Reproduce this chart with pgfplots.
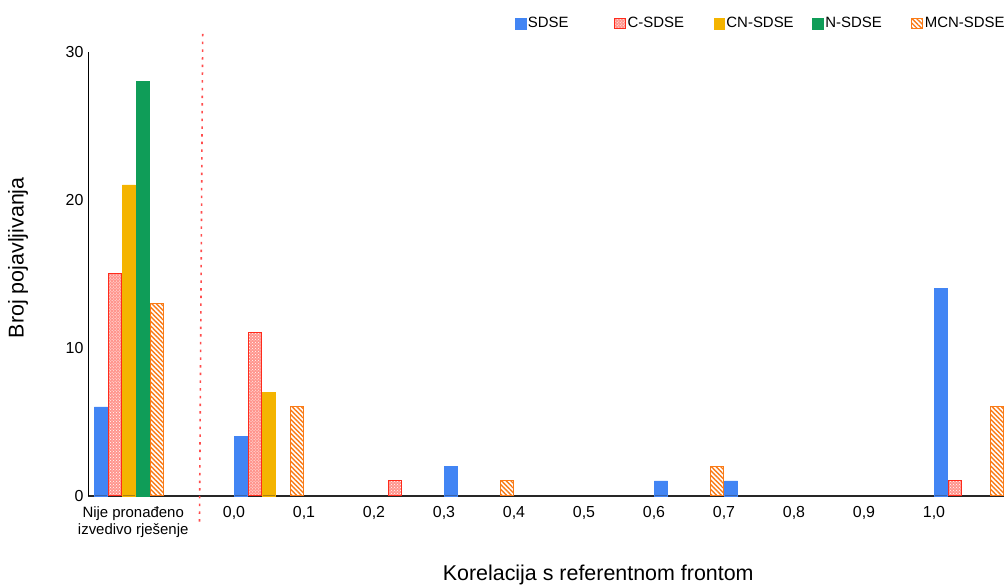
\documentclass[border=0pt]{standalone}
\usepackage{fontspec}
\setmainfont{Liberation Sans}
\usepackage{pgfplots}
\pgfplotsset{compat=1.18}
\usetikzlibrary{patterns,patterns.meta}
\definecolor{sdse}{HTML}{4285F4}
\definecolor{csdse}{HTML}{FF2B1C}
\definecolor{cnsdse}{HTML}{F4B400}
\definecolor{nsdse}{HTML}{0F9D58}
\definecolor{mcn}{HTML}{FA7B17}
\definecolor{dotred}{HTML}{FF4D4D}
\begin{document}
\begin{tikzpicture}
\useasboundingbox (-88bp,-90.3bp) rectangle (918bp,495.7bp);
\begin{axis}[
  at={(0,0)}, anchor=south west,
  scale only axis, width=916bp, height=444bp,
  xmin=-0.0857, xmax=13.0, ymin=0, ymax=30,
  axis x line=bottom, axis y line=left,
  axis line style={-},
  x axis line style={line width=1.8bp, color=black!85},
  y axis line style={line width=0.9bp, color=black},
  major tick length=0pt,
  ytick={0,10,20,30},
  xtick={0.56,2,3,4,5,6,7,8,9,10,11,12},
  xticklabels={{{\fontsize{15}{17}\selectfont Nije pronađeno}\\{\fontsize{15}{17}\selectfont izvedivo rješenje}},{0,0},{0,1},{0,2},{0,3},{0,4},{0,5},{0,6},{0,7},{0,8},{0,9},{1,0}},
  xticklabel style={font=\fontsize{16}{18}\selectfont, align=center, yshift=-7bp},
  yticklabel style={font=\fontsize{16}{16}\selectfont, xshift=-1bp},
  /pgf/number format/assume math mode=true,
  xlabel={Korelacija s referentnom frontom},
  xlabel style={at={(axis description cs:0.557,-0.179)}, anchor=center, font=\fontsize{21.5}{21.5}\selectfont},
  ylabel={Broj pojavljivanja},
  ylabel style={at={(axis description cs:-0.0764,0.536)}, anchor=center, font=\fontsize{21.5}{21.5}\selectfont},
  ybar, bar width=0.186, bar shift=0pt,
  clip=false,
  legend columns=5,
  legend cell align=left,
  legend image code/.code={\draw[#1,/tikz/.cd] (0bp,-5.3bp) rectangle (10.6bp,5.3bp);},
  legend style={
    at={(axis description cs:0.4662,1.0635)}, anchor=west,
    draw=none, fill=none, inner sep=0pt, outer sep=0pt,
    font=\fontsize{15}{15}\selectfont,
    nodes={text width=84bp, align=left, inner xsep=2bp, inner ysep=1bp},
    /tikz/every even column/.append style={column sep=0pt},
  },
]
\addplot[draw=sdse, line width=0.3bp, fill=sdse] coordinates {(0.1,6) (2.1,4) (5.1,2) (8.1,1) (9.1,1) (12.1,14)};
\addplot[draw=csdse, line width=1bp, fill=csdse!50, postaction={pattern=crosshatch dots, pattern color=white}] coordinates {(0.3,15) (2.3,11) (4.3,1) (12.3,1)};
\addplot[draw=cnsdse, line width=0.3bp, fill=cnsdse] coordinates {(0.5,21) (2.5,7)};
\addplot[draw=nsdse, line width=0.3bp, fill=nsdse] coordinates {(0.7,28)};
\addplot[draw=mcn, line width=1bp, fill=white, postaction={pattern={Lines[angle=-45,distance=3.3bp,line width=1.4bp]}, pattern color=mcn}] coordinates {(0.9,13) (2.9,6) (5.9,1) (8.9,2) (12.9,6)};
\legend{SDSE,C-SDSE,CN-SDSE,N-SDSE,MCN-SDSE}
\draw[color=dotred, line width=1.6bp, dash pattern=on 2.5bp off 5.2bp] (axis cs:1.553,31.2) -- (axis cs:1.507,-1.78);
\end{axis}
\end{tikzpicture}
\end{document}
